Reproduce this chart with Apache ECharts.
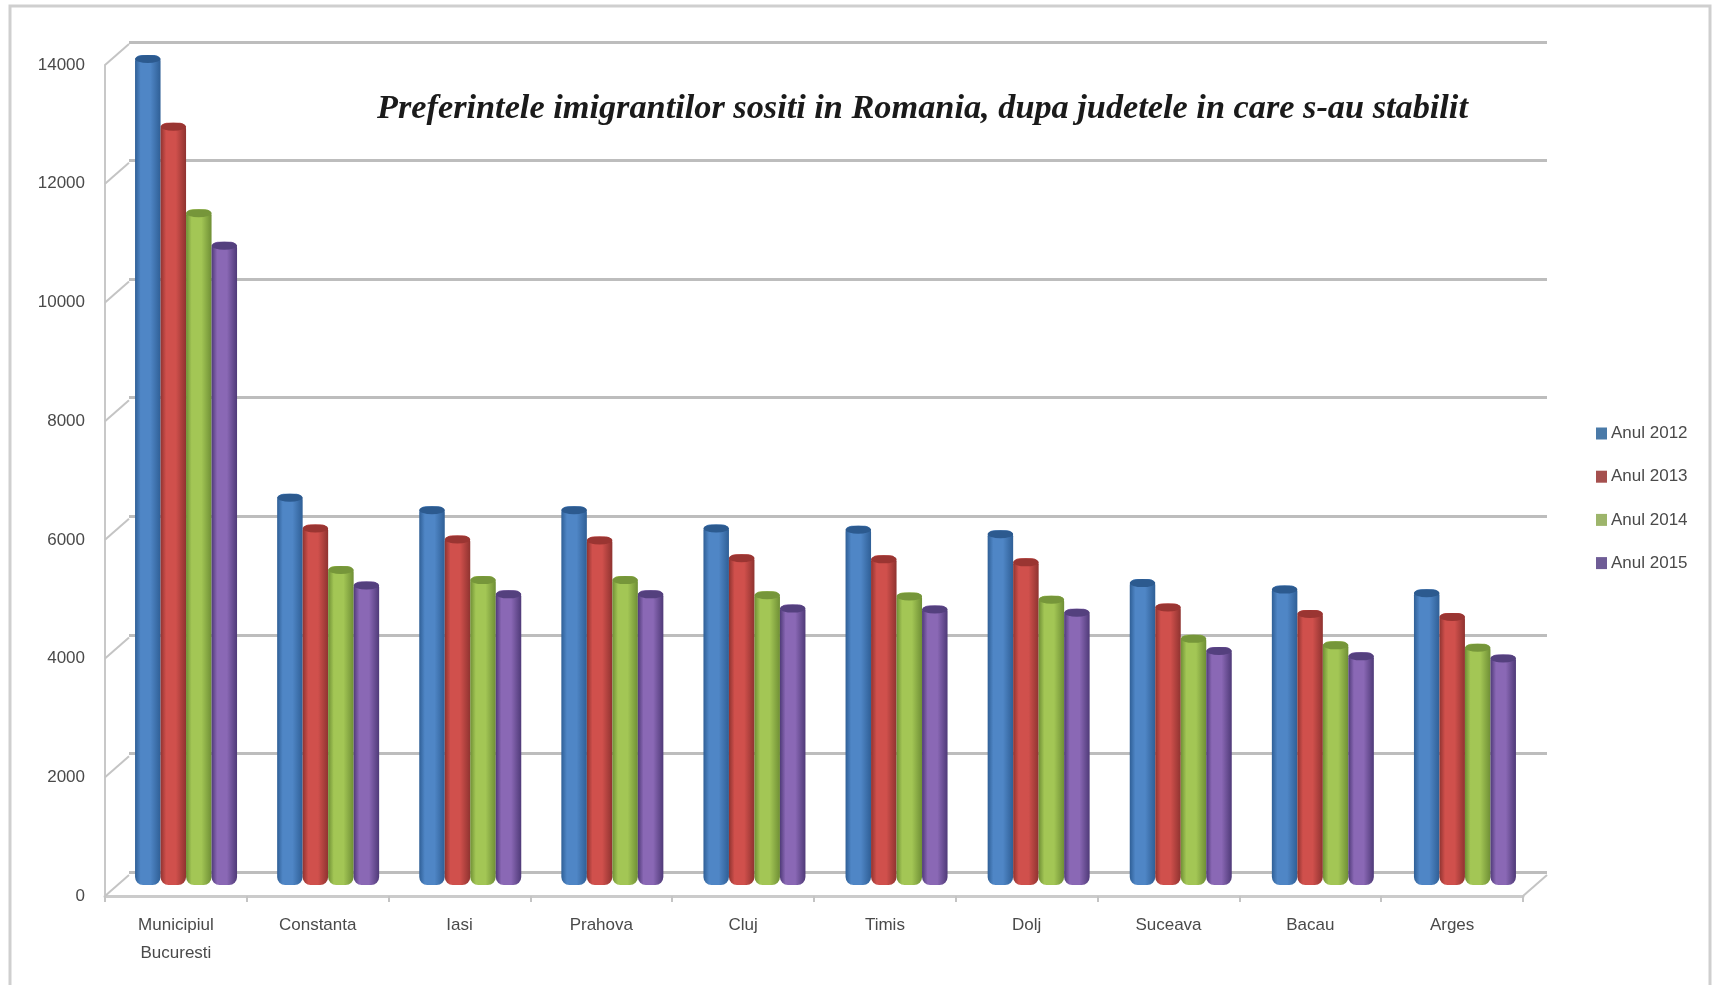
<!DOCTYPE html>
<html><head><meta charset="utf-8">
<style>html,body{margin:0;padding:0;background:#fff;overflow:hidden}#c{width:1713px;height:985px;filter:blur(0.7px)}</style>
<script src="https://cdn.jsdelivr.net/npm/echarts@6/dist/echarts.min.js"></script>
</head><body><div id="c"></div>
<script>
const titleText = "Preferintele imigrantilor sositi in Romania, dupa judetele in care s-au stabilit";
const categories = ["Municipiul\nBucuresti","Constanta","Iasi","Prahova","Cluj","Timis","Dolj","Suceava","Bacau","Arges"];
const seriesNames = ["Anul 2012","Anul 2013","Anul 2014","Anul 2015"];
const anul2012 = [14000,6600,6390,6390,6080,6060,5985,5160,5050,4990];
const anul2013 = [12858,6080,5895,5880,5580,5560,5510,4750,4640,4590];
const anul2014 = [11400,5380,5210,5210,4955,4935,4880,4220,4110,4070];
const anul2015 = [10850,5120,4970,4970,4730,4715,4660,4015,3925,3890];
const yTicks = [0,2000,4000,6000,8000,10000,12000,14000];

const values = [anul2012,anul2013,anul2014,anul2015];
const palette = [
  {edge:'#2f5f96',mid:'#4f86c6',cap:'#2c5a8f',legend:'#4a7aa8'},
  {edge:'#8f3330',mid:'#d0504c',cap:'#9a3532',legend:'#a5504e'},
  {edge:'#6f8f35',mid:'#a3c655',cap:'#76963a',legend:'#9db56b'},
  {edge:'#4f3a78',mid:'#8a68b5',cap:'#54407e',legend:'#6e5c96'}
];
const grid3D = {dx:24, dy:-21};
const axisFont = {color:'#4a4a4a',fontFamily:'Liberation Sans',fontSize:17};

const chart = echarts.init(document.getElementById('c'),null,{renderer:'canvas'});
const barGrad = p => new echarts.graphic.LinearGradient(0,0,1,0,[
  {offset:0,color:p.edge},{offset:.22,color:p.mid},{offset:.6,color:p.mid},{offset:1,color:p.edge}]);

const barSeries = seriesNames.map((name,i)=>({
  name,type:'bar',xAxisIndex:1,yAxisIndex:1,data:values[i],
  barWidth:25.5,barGap:'0%',z:3,
  itemStyle:{color:barGrad(palette[i]),borderRadius:[6,6,8,8]}
}));
const capSeries = seriesNames.map((name,i)=>({
  name,type:'pictorialBar',xAxisIndex:1,yAxisIndex:1,data:values[i],
  barWidth:25.5,barGap:'0%',z:4,
  symbol:'circle',symbolSize:['100%',8],symbolPosition:'end',
  itemStyle:{color:palette[i].cap}
}));
const depthLines = {
  type:'custom',xAxisIndex:0,yAxisIndex:0,z:1,silent:true,clip:false,
  data:yTicks.map(v=>[0,v]),
  renderItem(params,api){
    const cs = params.coordSys, y = api.coord([0,api.value(1)])[1];
    const mk = x=>({type:'line',shape:{x1:x,y1:y,x2:x+grid3D.dx,y2:y+grid3D.dy},
      style:{stroke:'#c4c4c4',lineWidth:2}});
    const kids=[mk(cs.x)];
    if(api.value(1)===0) kids.push(mk(cs.x+cs.width));
    return {type:'group',children:kids};
  }
};

chart.setOption({
  animation:false,backgroundColor:'#fff',
  title:{text:titleText,left:372,top:87,textStyle:{fontFamily:'Liberation Serif',fontStyle:'italic',fontWeight:'bold',fontSize:34.3,color:'#1a1a1a'}},
  legend:{orient:'vertical',left:1591,top:420,itemWidth:11,itemHeight:12,itemGap:26.2,
    icon:'rect',selectedMode:false,
    textStyle:{color:'#4a4a4a',fontFamily:'Liberation Sans',fontSize:17,padding:[0,0,0,-1]},
    data:seriesNames.map((name,i)=>({name,itemStyle:{color:palette[i].legend}}))},
  grid:[
    {left:105,top:65,width:1418,height:831},
    {left:115,top:55,width:1421,height:830},
    {left:129,top:42,width:1418,height:830}
  ],
  xAxis:[
    {type:'category',gridIndex:0,data:categories,
      axisLine:{lineStyle:{color:'#cbcbcb',width:3}},
      axisTick:{show:true,length:6,lineStyle:{color:'#c4c4c4',width:2}},
      axisLabel:{...axisFont,margin:15,lineHeight:28,interval:0}},
    {type:'category',gridIndex:1,data:categories,show:false},
    {type:'category',gridIndex:2,data:categories,show:false}
  ],
  yAxis:[
    {type:'value',gridIndex:0,min:0,max:14000,interval:2000,
      axisLine:{show:true,lineStyle:{color:'#c8c8c8',width:2}},
      axisTick:{show:false},splitLine:{show:false},
      axisLabel:{...axisFont,margin:20,formatter:v=>String(v)}},
    {type:'value',gridIndex:1,min:0,max:14000,interval:2000,show:false,splitLine:{show:false}},
    {type:'value',gridIndex:2,min:0,max:14000,interval:2000,
      axisLine:{show:false},axisTick:{show:false},axisLabel:{show:false},
      splitLine:{show:true,lineStyle:{color:'#bdbdbd',width:3}}}
  ],
  graphic:[{type:'rect',shape:{x:10,y:6,width:1700,height:1000},z:-1,silent:true,
    style:{fill:'none',stroke:'#cfcfcf',lineWidth:3}}],
  series:[depthLines,...barSeries,...capSeries]
});
</script></body></html>
